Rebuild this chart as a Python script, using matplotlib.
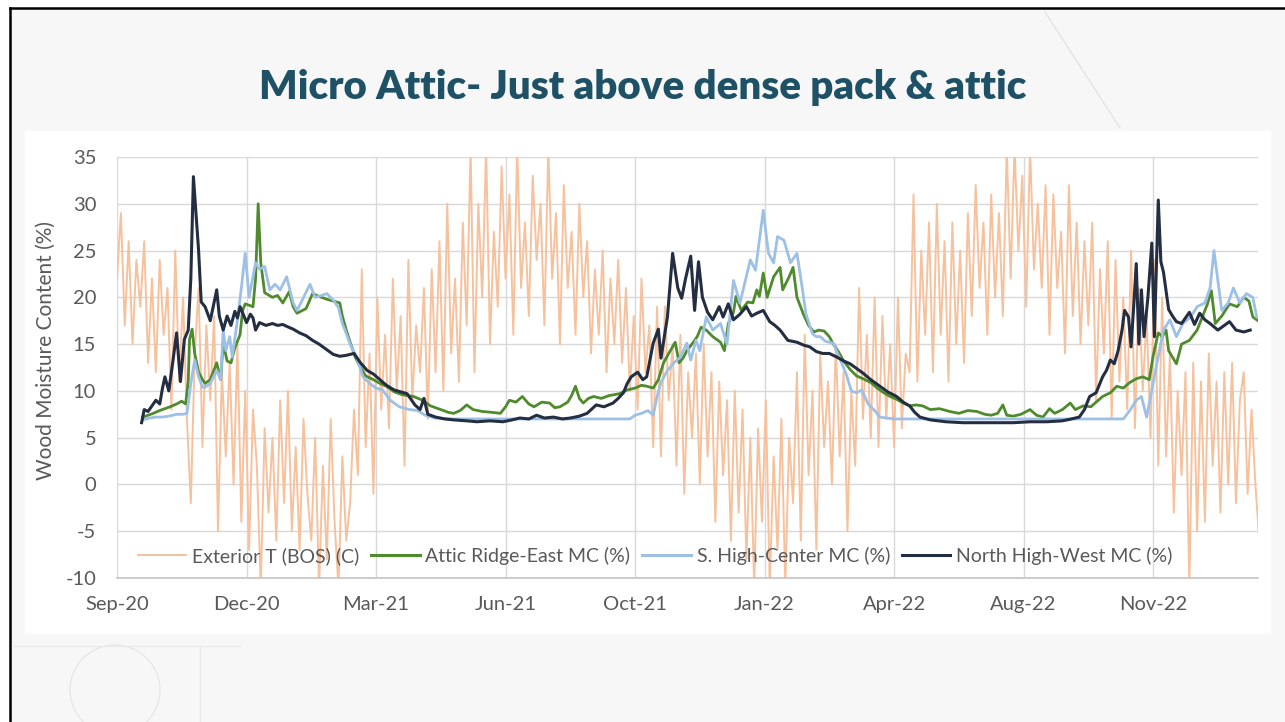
import matplotlib
matplotlib.use("Agg")
import matplotlib.pyplot as plt
import matplotlib.dates as mdates
from matplotlib.patches import Rectangle, Ellipse
from matplotlib.lines import Line2D
import pandas as pd

# ---- data ----
START = pd.Timestamp("2020-09-01")   # first day of the x axis
AXIS_DAYS = 881                      # axis runs to end of Jan 2023
TICK_STEP = 100                      # Excel date axis: one label every 100 days

# exterior temperature (C), one reading every 3 days from START
ext_step = 3
ext_temp = [
    22, 29, 17, 26, 15, 24, 19, 26, 13, 22,
    12, 24, 16, 21, 8, 25, 11, 20, 7, -2,
    14, 21, 4, 17, 9, 18, -5, 12, 3, 13,
    0, 15, -4, 10, -7, 8, 2, -11, 6, -3,
    5, -6, 9, -2, 10, -5, 4, -7, 7, -1,
    -6, 5, -11, 2, -8, 7, -4, -11, 3, -6,
    -2, 8, 1, 23, 4, 14, -1, 20, 8, 16,
    6, 22, 10, 18, 2, 24, 9, 17, 12, 21,
    7, 23, 12, 26, 10, 30, 14, 22, 11, 28,
    17, 36, 12, 30, 20, 36, 15, 27, 19, 34,
    22, 31, 16, 36, 21, 28, 18, 33, 24, 30,
    17, 36, 22, 29, 15, 32, 21, 27, 16, 30,
    20, 26, 14, 23, 16, 25, 12, 22, 15, 24,
    13, 21, 10, 18, 8, 22, 12, 17, 4, 19,
    3, 19, 9, 15, 2, 16, -1, 12, 5, 14,
    0, 15, 3, 12, -4, 11, 1, 9, -6, 10,
    -3, 8, -8, 5, -11, 6, -4, 9, -11, 3,
    -7, 7, -11, 5, -2, 12, -6, 16, 1, 10,
    -7, 14, 4, 11, 0, 15, 3, 12, -5, 10,
    2, 21, 7, 16, 5, 20, 4, 18, 7, 15,
    4, 20, 6, 14, 12, 31, 11, 25, 16, 28,
    12, 30, 16, 26, 11, 28, 15, 25, 13, 29,
    18, 32, 21, 28, 16, 31, 20, 29, 18, 36,
    22, 36, 25, 33, 19, 36, 23, 30, 21, 32,
    16, 31, 21, 27, 14, 32, 18, 28, 15, 26,
    17, 28, 9, 23, 14, 26, 7, 24, 11, 20,
    8, 25, 6, 21, 10, 18, 5, 24, 2, 20,
    3, 14, -3, 10, 1, 12, -11, 13, -5, 11,
    -4, 14, 2, 11, -3, 12, 0, 13, -2, 9,
    12, -1, 8, 0, -6,
]

# wood moisture content (%), (day since START, value)
attic_ridge_east = [
    (20, 7.2), (24, 7.4), (28, 7.6), (33, 7.9), (37, 8.1), (41, 8.3), (46, 8.6),
    (50, 8.9), (53, 8.6), (55, 11.0), (56, 15.5), (58, 16.6), (60, 14.0), (63, 12.0),
    (66, 11.2), (68, 10.8), (72, 11.2), (77, 13.0), (80, 11.2), (82, 15.1), (85, 13.2),
    (88, 13.0), (91, 14.6), (95, 16.0), (97, 18.6), (99, 19.3), (105, 19.0), (107, 22.0),
    (109, 30.0), (111, 23.7), (114, 20.5), (120, 20.0), (124, 20.2), (128, 19.4),
    (133, 20.6), (136, 19.0), (139, 18.3), (146, 18.8), (151, 20.4), (156, 20.1),
    (162, 19.8), (167, 19.6), (172, 19.4), (174, 18.0), (177, 16.5), (180, 15.2),
    (184, 13.6), (188, 12.5), (192, 11.6), (198, 11.2), (203, 10.8), (208, 10.5),
    (214, 9.9), (220, 9.6), (229, 9.4), (236, 9.0), (242, 8.4), (250, 8.0), (256, 7.7),
    (260, 7.6), (265, 7.9), (270, 8.5), (275, 8.0), (282, 7.8), (290, 7.7), (296, 7.6),
    (300, 8.3), (303, 9.0), (308, 8.8), (313, 9.4), (318, 8.6), (322, 8.3), (328, 8.8),
    (334, 8.7), (338, 8.2), (342, 8.3), (348, 8.8), (351, 9.5), (354, 10.5), (357, 9.2),
    (360, 8.7), (364, 9.2), (368, 9.4), (374, 9.2), (380, 9.5), (388, 9.7), (394, 10.1),
    (400, 10.3), (405, 10.6), (409, 10.5), (414, 10.3), (418, 11.2), (422, 13.0),
    (426, 14.0), (431, 15.2), (434, 13.0), (437, 13.5), (440, 14.3), (445, 15.2),
    (448, 15.8), (451, 16.8), (455, 16.5), (460, 15.8), (466, 15.2), (469, 14.3),
    (472, 17.2), (476, 18.4), (478, 20.1), (482, 18.6), (487, 19.5), (491, 19.4),
    (494, 20.8), (496, 20.1), (499, 22.6), (502, 20.0), (507, 22.2), (512, 23.2),
    (514, 20.8), (519, 22.2), (522, 23.2), (525, 20.0), (530, 18.2), (534, 17.0),
    (538, 16.3), (542, 16.5), (546, 16.4), (550, 15.8), (553, 15.0), (557, 14.2),
    (561, 13.2), (566, 12.3), (571, 11.6), (576, 11.3), (582, 10.9), (587, 10.3),
    (592, 9.8), (597, 9.4), (602, 9.1), (607, 8.7), (612, 8.4), (617, 8.5), (622, 8.4),
    (628, 8.0), (635, 8.1), (643, 7.8), (650, 7.6), (657, 7.9), (664, 7.8), (670, 7.5),
    (675, 7.4), (680, 7.6), (684, 8.5), (687, 7.4), (692, 7.3), (698, 7.5), (705, 8.0),
    (710, 7.4), (715, 7.2), (720, 8.1), (724, 7.6), (730, 8.0), (736, 8.7), (740, 8.0),
    (746, 8.4), (752, 8.3), (756, 8.8), (761, 9.4), (767, 9.8), (772, 10.5), (777, 10.3),
    (782, 10.9), (787, 11.3), (792, 11.5), (797, 11.2), (800, 13.7), (804, 16.2),
    (807, 15.8), (810, 16.5), (812, 14.3), (818, 12.9), (822, 15.0), (828, 15.4),
    (834, 16.5), (838, 17.9), (842, 19.3), (845, 20.7), (848, 17.2), (853, 18.0),
    (859, 19.3), (865, 19.0), (870, 20.0), (874, 19.6), (877, 17.9), (881, 17.5),
]

s_high_center = [
    (20, 6.9), (25, 7.1), (30, 7.2), (35, 7.2), (40, 7.3), (46, 7.5), (51, 7.5),
    (54, 7.6), (57, 10.8), (60, 13.3), (63, 11.5), (66, 10.4), (68, 10.4), (72, 10.8),
    (77, 12.2), (80, 11.2), (82, 16.5), (84, 14.3), (87, 15.8), (89, 13.6), (93, 17.6),
    (96, 21.0), (99, 24.7), (102, 20.0), (104, 21.5), (107, 23.7), (110, 23.0),
    (114, 23.3), (118, 20.8), (122, 21.4), (126, 20.8), (131, 22.2), (134, 20.5),
    (136, 19.4), (139, 18.6), (143, 19.7), (149, 21.4), (153, 20.0), (158, 20.2),
    (162, 20.4), (167, 19.7), (171, 18.9), (174, 17.2), (176, 16.5), (180, 15.0),
    (185, 13.6), (190, 11.5), (195, 10.8), (200, 10.3), (205, 10.1), (211, 9.0),
    (218, 8.3), (226, 8.0), (232, 7.9), (238, 7.4), (245, 7.1), (260, 7.0), (300, 7.0),
    (350, 7.0), (396, 7.0), (400, 7.4), (405, 7.6), (410, 7.9), (414, 7.4), (417, 9.4),
    (420, 10.9), (425, 12.2), (430, 13.0), (435, 13.6), (440, 15.1), (443, 13.3),
    (447, 15.4), (450, 14.3), (455, 17.9), (460, 16.5), (466, 17.2), (471, 15.0),
    (476, 21.8), (481, 19.4), (489, 24.0), (493, 22.9), (496, 26.1), (499, 29.3),
    (503, 24.7), (507, 23.7), (510, 26.5), (515, 26.1), (520, 23.7), (525, 24.7),
    (529, 21.1), (532, 18.2), (537, 16.1), (540, 15.8), (543, 15.8), (547, 15.3),
    (553, 15.1), (558, 13.5), (563, 11.8), (567, 10.0), (571, 9.8), (575, 10.1),
    (580, 8.6), (585, 7.9), (589, 7.2), (600, 7.0), (650, 7.0), (700, 7.0), (750, 7.0),
    (777, 7.0), (782, 7.9), (787, 9.0), (791, 9.4), (795, 7.2), (799, 10.1), (804, 13.7),
    (808, 16.5), (813, 17.6), (818, 15.8), (823, 17.2), (829, 17.9), (834, 19.0),
    (840, 19.4), (844, 21.0), (847, 25.0), (850, 21.8), (853, 18.6), (858, 19.4),
    (862, 21.0), (867, 19.4), (872, 20.4), (877, 20.0), (880, 17.9),
]

north_high_west = [
    (19, 6.6), (21, 8.0), (24, 7.8), (27, 8.4), (30, 9.0), (33, 8.6), (35, 10.2),
    (37, 11.5), (40, 10.0), (43, 13.0), (46, 16.2), (49, 11.0), (52, 15.5), (55, 16.5),
    (57, 22.0), (59, 32.9), (61, 29.0), (63, 25.0), (65, 19.5), (68, 19.0), (72, 17.5),
    (75, 19.5), (77, 20.8), (79, 18.0), (82, 16.5), (85, 18.0), (88, 17.0), (91, 18.5),
    (93, 17.8), (95, 19.0), (98, 18.0), (100, 17.3), (103, 18.2), (105, 17.8),
    (107, 16.5), (110, 17.3), (115, 17.0), (120, 17.2), (124, 17.0), (128, 17.1),
    (131, 16.9), (136, 16.6), (141, 16.2), (146, 15.9), (151, 15.4), (156, 15.0),
    (162, 14.4), (167, 13.9), (172, 13.7), (177, 13.8), (183, 14.0), (188, 13.0),
    (193, 12.2), (198, 11.8), (203, 11.2), (208, 10.6), (214, 10.1), (219, 9.9),
    (224, 9.7), (230, 8.5), (234, 8.0), (237, 9.2), (240, 7.5), (246, 7.2), (253, 7.0),
    (260, 6.9), (270, 6.8), (278, 6.7), (288, 6.8), (298, 6.7), (305, 6.9), (311, 7.1),
    (318, 7.0), (324, 7.4), (330, 7.1), (337, 7.2), (344, 7.0), (350, 7.1), (357, 7.3),
    (363, 7.6), (370, 8.5), (376, 8.3), (383, 8.7), (387, 9.2), (391, 9.8), (394, 10.8),
    (397, 11.5), (402, 12.0), (406, 11.2), (409, 11.5), (414, 15.1), (418, 16.6),
    (420, 13.5), (425, 17.9), (429, 24.7), (433, 21.0), (436, 19.9), (439, 22.0),
    (443, 24.4), (446, 18.6), (449, 23.8), (452, 20.0), (456, 18.4), (460, 17.6),
    (465, 19.0), (468, 17.9), (472, 19.3), (476, 17.6), (481, 18.2), (486, 19.0),
    (490, 18.0), (494, 18.3), (499, 18.6), (504, 17.4), (508, 17.0), (512, 16.5),
    (518, 15.4), (525, 15.2), (530, 14.9), (535, 14.7), (540, 14.2), (545, 14.0),
    (550, 14.0), (556, 13.6), (561, 13.2), (566, 12.9), (571, 12.4), (576, 11.9),
    (582, 11.2), (589, 10.5), (595, 9.9), (602, 9.4), (607, 8.8), (612, 8.4), (616, 7.7),
    (620, 7.2), (628, 6.9), (640, 6.7), (653, 6.6), (666, 6.6), (679, 6.6), (692, 6.6),
    (705, 6.7), (718, 6.7), (730, 6.8), (737, 7.0), (743, 7.2), (747, 8.0), (751, 9.4),
    (756, 9.8), (761, 11.5), (764, 12.2), (767, 13.3), (770, 12.9), (773, 14.3),
    (776, 16.5), (778, 18.6), (781, 17.9), (783, 14.7), (785, 19.0), (787, 23.6),
    (789, 15.0), (791, 20.8), (793, 15.8), (796, 20.0), (799, 25.8), (801, 15.8),
    (804, 30.4), (806, 23.8), (808, 22.7), (812, 18.7), (815, 18.0), (818, 17.4),
    (822, 17.2), (825, 17.8), (828, 18.4), (832, 17.1), (836, 18.3), (840, 17.6),
    (844, 17.2), (850, 16.5), (855, 17.0), (859, 17.4), (864, 16.5), (870, 16.3),
    (875, 16.5),
]

series_labels = ["Exterior T (BOS) (C)", "Attic Ridge-East MC (%)",
                 "S. High-Center MC (%)", "North High-West MC (%)"]
series_colors = ["#F6C19D", "#4F8A2C", "#9DC0E6", "#242E42"]
title = "Micro Attic- Just above dense pack & attic"
y_label = "Wood Moisture Content (%)"


def to_dates(points):
    days, vals = zip(*points)
    return START + pd.to_timedelta(list(days), unit="D"), list(vals)


W, H = 1285, 722
plt.rcParams["font.family"] = ["Lato", "DejaVu Sans"]
plt.rcParams["axes.unicode_minus"] = False

fig = plt.figure(figsize=(W / 100, H / 100), dpi=100)
fig.patch.set_facecolor("#F7F7F7")

# slide decoration
fig.add_artist(Rectangle((0, 1 - 8 / H), 1, 8 / H, transform=fig.transFigure, color="white", zorder=0))
fig.add_artist(Rectangle((0, 0), 10 / W, 1, transform=fig.transFigure, color="white", zorder=0))
fig.add_artist(Line2D([10 / W, 1], [1 - 8 / H, 1 - 8 / H], transform=fig.transFigure, color="black", lw=1.8))
fig.add_artist(Line2D([10 / W, 10 / W], [0, 1 - 8 / H], transform=fig.transFigure, color="black", lw=1.8))
fig.add_artist(Line2D([1045 / W, 1120 / W], [1 - 12 / H, 1 - 128 / H], transform=fig.transFigure,
                      color="#E2E2E2", lw=0.9))
fig.add_artist(Ellipse((115 / W, 1 - 690 / H), 90 / W, 90 / H, transform=fig.transFigure, fill=False,
                       ec="#E6E6E6", lw=0.9))
fig.add_artist(Line2D([12 / W, 240 / W], [1 - 646 / H, 1 - 646 / H], transform=fig.transFigure,
                      color="#EAEAEA", lw=0.9))
fig.add_artist(Line2D([200 / W, 200 / W], [1 - 646 / H, 0], transform=fig.transFigure,
                      color="#EAEAEA", lw=0.9))

# white chart area
fig.add_artist(Rectangle((25 / W, 1 - 633 / H), (1270 - 25) / W, (633 - 131) / H,
                         transform=fig.transFigure, color="white", zorder=0))

fig.text(0.5, 1 - 87 / H, title, ha="center", va="center", fontsize=29, fontweight="heavy",
         color="#1E5166")

ax = fig.add_axes([117 / W, 1 - 578 / H, (1258 - 117) / W, (578 - 157) / H])
ax.set_facecolor("none")

ext_dates = pd.date_range(START, periods=len(ext_temp), freq=f"{ext_step}D")
ax.plot(ext_dates, ext_temp, color=series_colors[0], lw=1.4, label=series_labels[0])
for pts, lab, col, lw in [(attic_ridge_east, series_labels[1], series_colors[1], 2.0),
                          (s_high_center, series_labels[2], series_colors[2], 2.0),
                          (north_high_west, series_labels[3], series_colors[3], 2.2)]:
    d, v = to_dates(pts)
    ax.plot(d, v, color=col, lw=lw, label=lab, solid_joinstyle="round")

ax.set_ylim(-10, 35)
ax.set_yticks(range(-10, 36, 5))
ax.set_xlim(START, START + pd.Timedelta(days=AXIS_DAYS))
ax.set_xticks(pd.date_range(START, periods=9, freq=f"{TICK_STEP}D"))
ax.xaxis.set_major_formatter(mdates.DateFormatter("%b-%y"))

ax.grid(True, color="#D9D9D9", lw=1.0)
ax.set_axisbelow(True)
for side in ["top", "right", "left"]:
    ax.spines[side].set_visible(False)
ax.spines["bottom"].set_color("#C4C4C4")
ax.spines["bottom"].set_linewidth(1.2)
ax.tick_params(length=0, labelsize=14.5, colors="#595959")
ax.tick_params(axis="y", pad=15)
ax.tick_params(axis="x", pad=13)

fig.text(46 / W, 1 - 351 / H, y_label, rotation=90, ha="center", va="center",
         fontsize=15, color="#595959")

leg = ax.legend(loc="center", bbox_to_anchor=((655 - 117) / 1141, (578 - 556) / 421), ncol=4,
                frameon=False, fontsize=14, handlelength=2.5, handletextpad=0.3,
                columnspacing=0.6, labelcolor="#595959")
for line in leg.get_lines():
    line.set_linewidth(2.2)
leg.get_lines()[0].set_linewidth(1.4)

fig.savefig("out.png", dpi=100, facecolor=fig.get_facecolor())
